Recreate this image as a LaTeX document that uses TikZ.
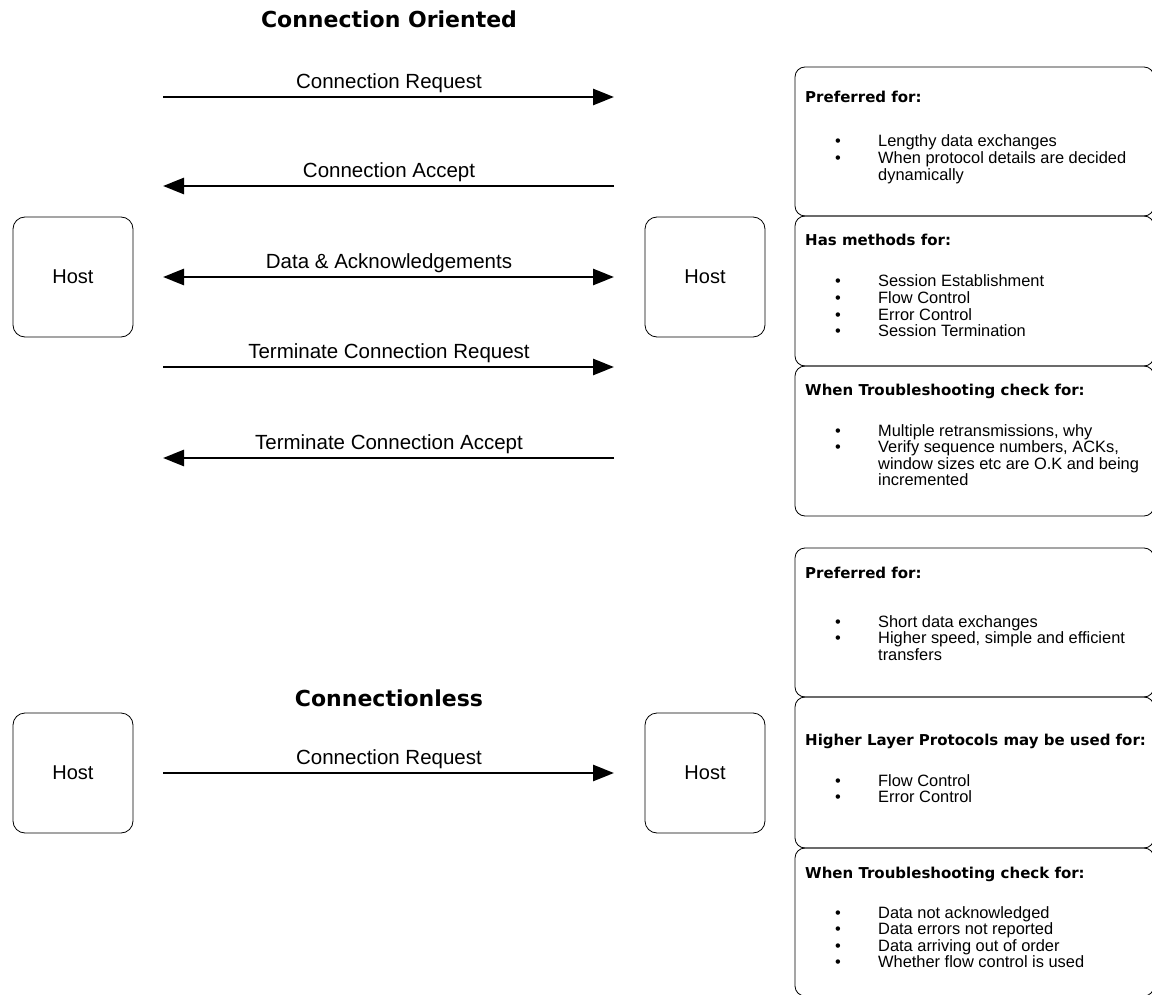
\documentclass[tikz,border=0pt]{standalone}
\usepackage{fontspec}
\setmainfont{Liberation Sans}
\newfontfamily\boldfam{DejaVu Sans}
\usetikzlibrary{arrows.meta}
\newcommand{\titlefont}{\boldfam\bfseries\fontsize{22}{26}\selectfont}
\newcommand{\headfont}{\boldfam\bfseries\fontsize{15}{17}\selectfont}
\newcommand{\bodyfont}{\fontsize{16.4}{15.8}\selectfont}
\newcommand{\lblfont}{\fontsize{20.5}{24}\selectfont}
\newcommand{\hostfont}{\fontsize{20}{24}\selectfont}
\newcommand{\blist}[1]{\begin{tabular}[t]{@{}p{43pt}@{}l@{}}#1\end{tabular}}
\begin{document}
\begin{tikzpicture}[x=1pt,y=-1pt,
  host/.style={draw, line width=0.8pt, rounded corners=12pt, minimum width=120pt, minimum height=120pt, inner sep=0pt, font=\hostfont},
  info/.style={draw, line width=0.8pt, rounded corners=10pt, inner sep=0pt},
  arr/.style={line width=2.6pt, -{Triangle[length=21pt,width=16pt]}},
  darr/.style={line width=2.6pt, {Triangle[length=21pt,width=16pt]}-{Triangle[length=21pt,width=16pt]}},
  lbl/.style={anchor=base, inner sep=0pt, font=\lblfont},
  ttl/.style={anchor=base, inner sep=0pt, font=\titlefont},
  head/.style={anchor=base west, inner sep=0pt, font=\headfont},
  body/.style={anchor=base west, inner sep=0pt, font=\bodyfont}]
\useasboundingbox (0,0) rectangle (1152,995);

% titles
\node[ttl] (t1) at (389,28) {Connection Oriented};
\node[ttl] (t2) at (389,706.5) {Connectionless};

% hosts
\node[host] (hL1) at (73,277) {Host};
\node[host] (hR1) at (705,277) {Host};
\node[host] (hL2) at (73,773) {Host};
\node[host] (hR2) at (705,773) {Host};

% arrow end points
\coordinate (a1l) at (163,97);  \coordinate (a1r) at (614,97);
\coordinate (a2l) at (163,186); \coordinate (a2r) at (614,186);
\coordinate (a3l) at (163,277); \coordinate (a3r) at (614,277);
\coordinate (a4l) at (163,367); \coordinate (a4r) at (614,367);
\coordinate (a5l) at (163,458); \coordinate (a5r) at (614,458);
\coordinate (a6l) at (163,773); \coordinate (a6r) at (614,773);

\draw[arr] (a1l) -- (a1r);
\draw[arr] (a2r) -- (a2l);
\draw[darr] (a3l) -- (a3r);
\draw[arr] (a4l) -- (a4r);
\draw[arr] (a5r) -- (a5l);
\draw[arr] (a6l) -- (a6r);

\node[lbl] (l1) at (389,88.5) {Connection Request};
\node[lbl] (l2) at (389,177.5) {Connection Accept};
\node[lbl] (l3) at (389,268.5) {Data \& Acknowledgements};
\node[lbl] (l4) at (389,358.5) {Terminate Connection Request};
\node[lbl] (l5) at (389,449.5) {Terminate Connection Accept};
\node[lbl] (l6) at (389,764.5) {Connection Request};

% info boxes
\node[info, minimum width=359pt, minimum height=149pt] (b1) at (974.5,141.5) {};
\node[info, minimum width=359pt, minimum height=150pt] (b2) at (974.5,291) {};
\node[info, minimum width=359pt, minimum height=150pt] (b3) at (974.5,441) {};
\node[info, minimum width=359pt, minimum height=149pt] (b4) at (974.5,622.5) {};
\node[info, minimum width=359pt, minimum height=151pt] (b5) at (974.5,772.5) {};
\node[info, minimum width=359pt, minimum height=148pt] (b6) at (974.5,922) {};

\node[head] (h1) at (805,103) {Preferred for:};
\node[body] (x1) at (835,147) {\blist{\textbullet & Lengthy data exchanges\\ \textbullet & When protocol details are decided\\ & dynamically}};

\node[head] (h2) at (805,246) {Has methods for:};
\node[body] (x2) at (835,287) {\blist{\textbullet & Session Establishment\\ \textbullet & Flow Control\\ \textbullet & Error Control\\ \textbullet & Session Termination}};

\node[head] (h3) at (805,395) {When Troubleshooting check for:};
\node[body] (x3) at (835,436) {\blist{\textbullet & Multiple retransmissions, why\\ \textbullet & Verify sequence numbers, ACKs,\\ & window sizes etc are O.K and being\\ & incremented}};

\node[head] (h4) at (805,578) {Preferred for:};
\node[body] (x4) at (835,627) {\blist{\textbullet & Short data exchanges\\ \textbullet & Higher speed, simple and efficient\\ & transfers}};

\node[head] (h5) at (805,745) {Higher Layer Protocols may be used for:};
\node[body] (x5) at (835,786) {\blist{\textbullet & Flow Control\\ \textbullet & Error Control}};

\node[head] (h6) at (805,878) {When Troubleshooting check for:};
\node[body] (x6) at (835,918) {\blist{\textbullet & Data not acknowledged\\ \textbullet & Data errors not reported\\ \textbullet & Data arriving out of order\\ \textbullet & Whether flow control is used}};
\end{tikzpicture}
\end{document}
